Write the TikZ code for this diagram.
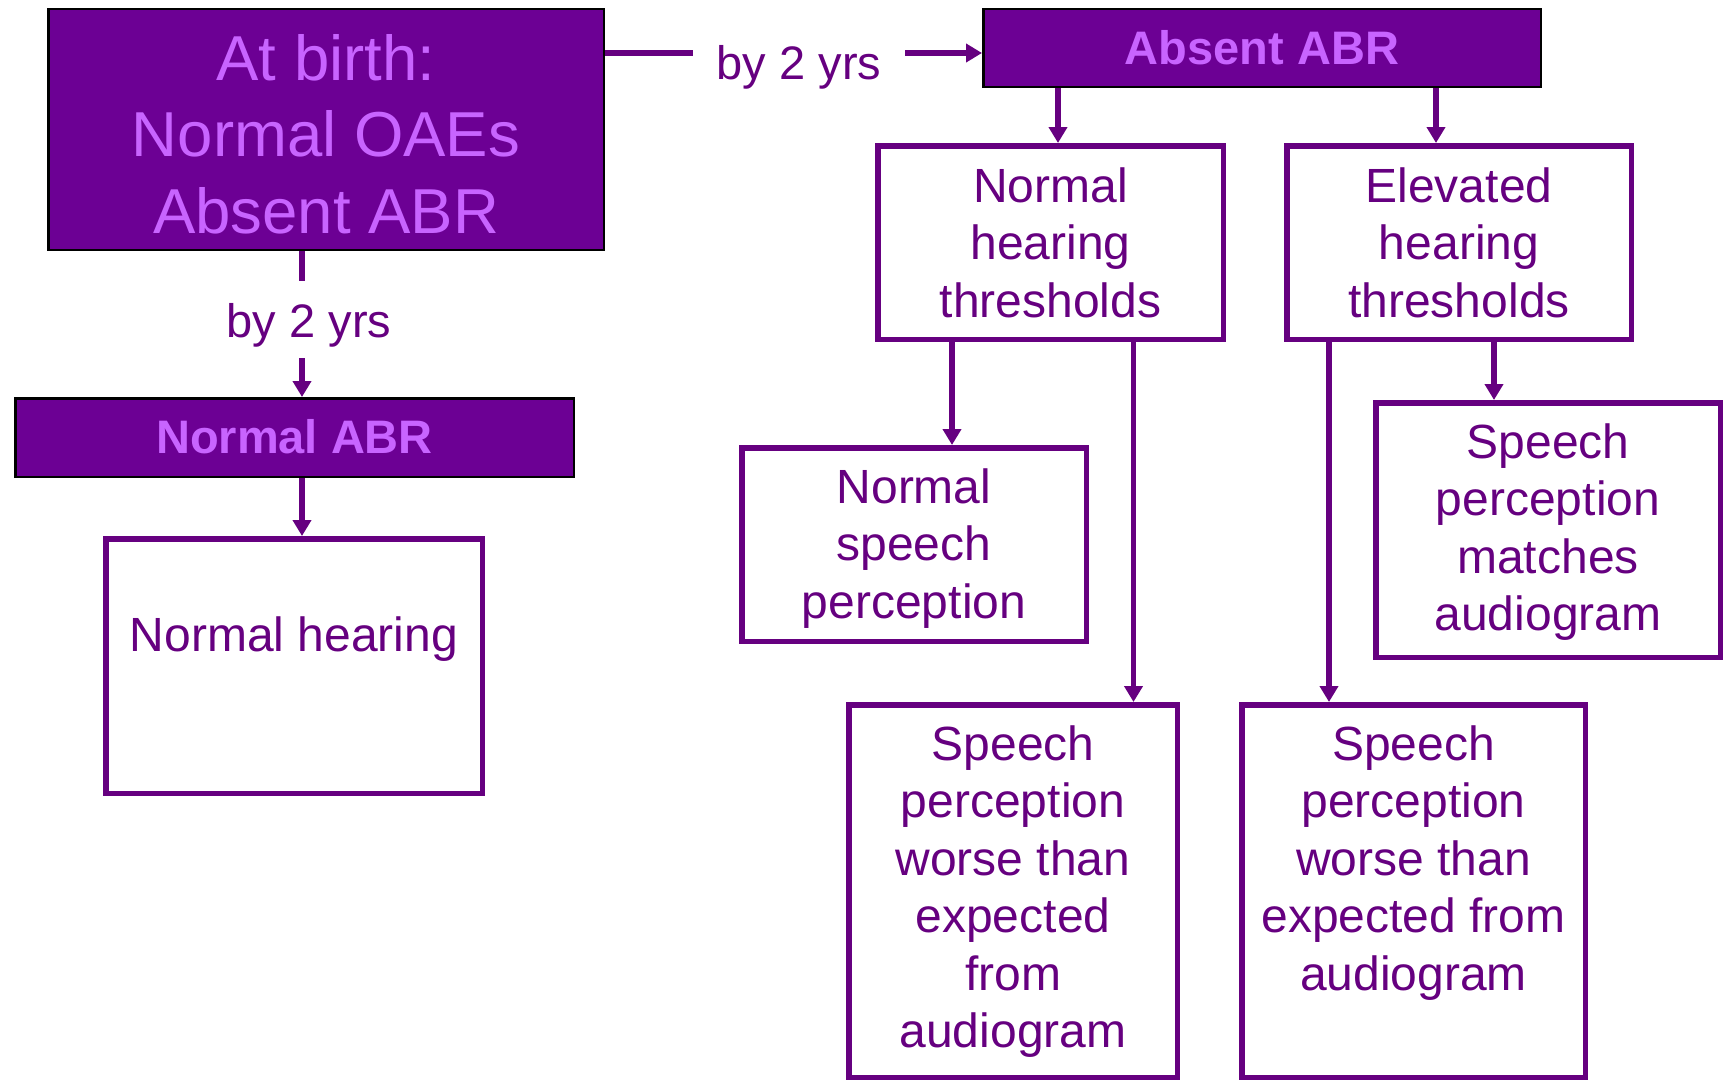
\documentclass[tikz,border=0pt]{standalone}
\usepackage{fontspec}
\setmainfont{Liberation Sans}
\usetikzlibrary{arrows.meta}
\definecolor{dkfill}{RGB}{108,0,148}
\definecolor{ptext}{RGB}{102,0,128}
\definecolor{ltext}{RGB}{200,100,255}
\begin{document}
\begin{tikzpicture}[x=1pt,y=-1pt,
  wbox/.style={draw=ptext, line width=5.5pt, fill=white, inner sep=0pt},
  dbox/.style={draw=black, line width=2.5pt, fill=dkfill, inner sep=0pt},
  btxt/.style={text=ptext, font=\fontsize{48}{57.5}\selectfont, align=center, anchor=base, inner sep=0pt},
  htxt/.style={text=ltext, font=\fontsize{47}{56}\selectfont\bfseries, anchor=base, inner sep=0pt},
  lbl/.style={text=ptext, font=\fontsize{47}{56}\selectfont, anchor=base, inner xsep=24pt, inner ysep=0pt},
  plainline/.style={draw=ptext, line width=5.5pt},
  conn/.style={draw=ptext, line width=5.5pt, -{Triangle[width=18pt,length=16pt]}}]
\fill[white] (0,0) rectangle (1729,1081);
\useasboundingbox (0,0) rectangle (1729,1081);

% dark boxes
\node[dbox, minimum width=555.5pt, minimum height=240.5pt] (A) at (326,129.5) {};
\node[dbox, minimum width=557.5pt, minimum height=77.5pt] (B) at (1262,48) {};
\node[dbox, minimum width=558.5pt, minimum height=78.5pt] (E) at (294.5,437.5) {};

% white boxes
\node[wbox, minimum width=345.5pt, minimum height=193.5pt] (C) at (1050.5,242.5) {};
\node[wbox, minimum width=344.5pt, minimum height=193.5pt] (D) at (1459,242.5) {};
\node[wbox, minimum width=376.5pt, minimum height=254.5pt] (F) at (294,666) {};
\node[wbox, minimum width=344.5pt, minimum height=193.5pt] (G) at (914,544.5) {};
\node[wbox, minimum width=344.5pt, minimum height=254.5pt] (H) at (1548,530) {};
\node[wbox, minimum width=328.5pt, minimum height=372.5pt] (I) at (1013,891) {};
\node[wbox, minimum width=343.5pt, minimum height=372.5pt] (J) at (1413.5,891) {};

% texts (anchor = baseline of the last line)
\node[btxt, text=ltext, font=\fontsize{63.5}{76.5}\selectfont] (At) at (326,233) {At birth:\\Normal OAEs\\Absent ABR};
\node[htxt] (Bt) at (1262,65) {Absent ABR};
\node[htxt] (Et) at (294.5,453) {Normal ABR};
\node[btxt] (Ct) at (1050.5,317) {Normal\\hearing\\thresholds};
\node[btxt] (Dt) at (1459,317) {Elevated\\hearing\\thresholds};
\node[btxt] (Ft) at (294,651) {Normal hearing};
\node[btxt] (Gt) at (914,618) {Normal\\speech\\perception};
\node[btxt] (Ht) at (1548,630.5) {Speech\\perception\\matches\\audiogram};
\node[btxt] (It) at (1013,1047.5) {Speech\\perception\\worse than\\expected\\from\\audiogram};
\node[btxt] (Jt) at (1413.5,990) {Speech\\perception\\worse than\\expected from\\audiogram};

% labels
\node[lbl] (L1) at (799,80) {by 2 yrs};
\node[lbl] (L2) at (309,337) {by 2 yrs};

% coordinates
\coordinate (yAB) at (0,53);
\coordinate (l2top) at (302,281);
\coordinate (l2bot) at (302,358);
\coordinate (xEF) at (302,0);
\coordinate (xBC) at (1058,0);
\coordinate (xBD) at (1436,0);
\coordinate (xCG) at (952,0);
\coordinate (xCI) at (1133.5,0);
\coordinate (xDJ) at (1329,0);
\coordinate (xDH) at (1494,0);

% connectors
\draw[plainline] (A.east |- yAB) -- (L1.west |- yAB);
\draw[conn] (L1.east |- yAB) -- (B.west |- yAB);
\draw[plainline] (A.south -| l2top) -- (l2top);
\draw[conn] (l2bot) -- (E.north -| l2bot);
\draw[conn] (E.south -| xEF) -- (F.north -| xEF);
\draw[conn] (B.south -| xBC) -- (C.north -| xBC);
\draw[conn] (B.south -| xBD) -- (D.north -| xBD);
\draw[conn] (C.south -| xCG) -- (G.north -| xCG);
\draw[conn] (C.south -| xCI) -- (I.north -| xCI);
\draw[conn] (D.south -| xDJ) -- (J.north -| xDJ);
\draw[conn] (D.south -| xDH) -- (H.north -| xDH);
\end{tikzpicture}
\end{document}
